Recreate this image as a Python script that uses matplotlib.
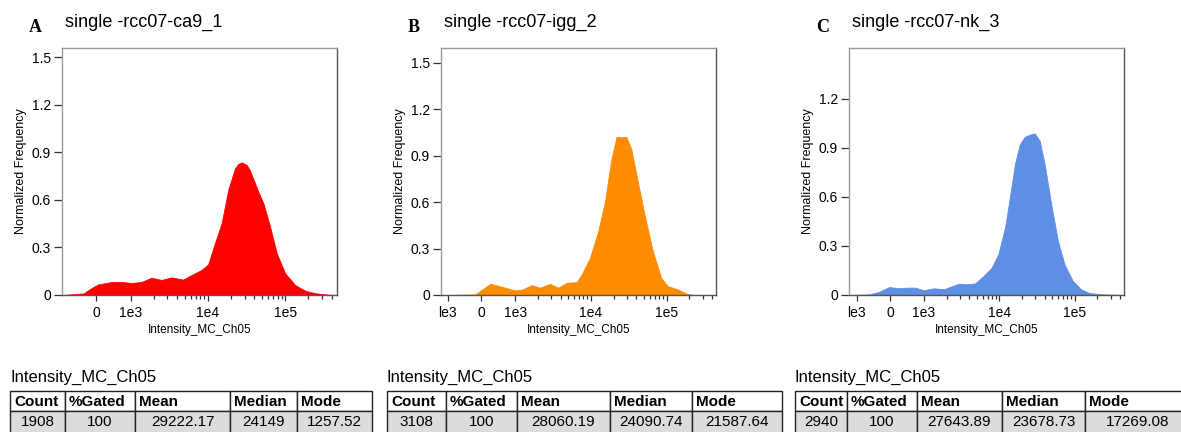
import matplotlib
matplotlib.use("Agg")
import matplotlib.pyplot as plt
from matplotlib.patches import Rectangle

plt.rcParams['font.family'] = ['Liberation Sans', 'DejaVu Sans']

# Dati degli istogrammi (intensita', frequenza normalizzata)
titoli = ["single -rcc07-ca9_1", "single -rcc07-igg_2", "single -rcc07-nk_3"]
lettere = ["A", "B", "C"]
colori = ["#fe0000", "#ff8c00", "#5e8fe4"]

int_a = [-980, -371, -123, 57, 449, 734, 1021, 1377, 1857, 2500, 3380, 4780, 6140, 8280,
         10090, 12330, 15060, 18350, 22400, 24800, 27400, 31800, 35100, 40800, 45000,
         52300, 63900, 78000, 100000, 134900, 182000, 245000, 365000, 469000]
freq_a = [0, 0.01, 0.046, 0.067, 0.082, 0.082, 0.076, 0.082, 0.109, 0.095, 0.111, 0.097,
          0.126, 0.158, 0.193, 0.326, 0.452, 0.662, 0.798, 0.826, 0.836, 0.82, 0.784,
          0.704, 0.651, 0.578, 0.431, 0.263, 0.137, 0.063, 0.027, 0.011, 0.002, 0]

int_b = [-1210, -182, 21, 265, 462, 706, 1000, 1225, 1660, 2130, 2890, 3710, 4790, 6480,
         7550, 9700, 12470, 15300, 18700, 21800, 29500, 34300, 41900, 51400, 66000,
         85000, 104000, 141000, 182000, 234000, 450000]
freq_b = [0, 0.004, 0.036, 0.072, 0.062, 0.047, 0.030, 0.034, 0.064, 0.047, 0.072, 0.047,
          0.079, 0.083, 0.132, 0.238, 0.409, 0.6, 0.877, 1.02, 1.02, 0.94, 0.728, 0.515,
          0.281, 0.11, 0.057, 0.036, 0.009, 0, 0]

int_c = [-1250, -623, -326, -30, 226, 483, 743, 1000, 1354, 1833, 2890, 3710, 4790, 6160,
         7920, 9700, 11900, 13800, 16100, 18700, 21800, 25400, 29500, 34300, 39900, 48800,
         59800, 73100, 94000, 121000, 156000, 234000, 450000]
freq_c = [0, 0.004, 0.02, 0.049, 0.041, 0.045, 0.045, 0.029, 0.041, 0.035, 0.069, 0.065,
          0.071, 0.116, 0.167, 0.249, 0.412, 0.596, 0.8, 0.922, 0.967, 0.98, 0.988, 0.943,
          0.8, 0.555, 0.331, 0.188, 0.086, 0.035, 0.012, 0.004, 0]

intensita = [int_a, int_b, int_c]
frequenze = [freq_a, freq_b, freq_c]

# Limiti degli assi
x_min = [-1000, -1230, -1270]
x_max = [470000, 450000, 450000]
y_max = [1.557, 1.595, 1.51]
y_ticks = [[0, 0.3, 0.6, 0.9, 1.2, 1.5], [0, 0.3, 0.6, 0.9, 1.2, 1.5], [0, 0.3, 0.6, 0.9, 1.2]]
y_tick_labels = [["0", "0.3", "0.6", "0.9", "1.2", "1.5"],
                 ["0", "0.3", "0.6", "0.9", "1.2", "1.5"],
                 ["0", "0.3", "0.6", "0.9", "1.2"]]
x_ticks = [[0, 1e3, 1e4, 1e5], [-1e3, 0, 1e3, 1e4, 1e5], [-1e3, 0, 1e3, 1e4, 1e5]]
x_tick_labels = [["0", "1e3", "1e4", "1e5"], ["le3", "0", "1e3", "1e4", "1e5"],
                 ["le3", "0", "1e3", "1e4", "1e5"]]
minor_ticks = [m * 10 ** e for e in (3, 4) for m in range(2, 10)] + [2e5, 3e5, 4e5]

# Statistiche sotto ogni grafico
intestazioni = ["Count", "%Gated", "Mean", "Median", "Mode"]
stat_a = ["1908", "100", "29222.17", "24149", "1257.52"]
stat_b = ["3108", "100", "28060.19", "24090.74", "21587.64"]
stat_c = ["2940", "100", "27643.89", "23678.73", "17269.08"]
statistiche = [stat_a, stat_b, stat_c]

W, H = 1181, 432
fig = plt.figure(figsize=(W / 100, H / 100), dpi=100)

# posizione in pixel degli assi: sinistra, destra
assi_px = [(62, 337), (441, 716), (849, 1124)]
top_px, bottom_px = 48, 295

for i in range(3):
    l, r = assi_px[i]
    ax = fig.add_axes([l / W, (H - bottom_px) / H, (r - l) / W, (bottom_px - top_px) / H])
    ax.set_xscale('symlog', linthresh=1e3, linscale=0.40)
    ax.fill_between(intensita[i], frequenze[i], 0, color=colori[i], linewidth=0.6,
                    edgecolor=colori[i])
    ax.set_xlim(x_min[i], x_max[i])
    ax.set_ylim(0, y_max[i])

    ax.set_xticks(x_ticks[i])
    ax.set_xticklabels(x_tick_labels[i])
    ax.set_xticks([t for t in minor_ticks if t < x_max[i]], minor=True)
    ax.set_yticks(y_ticks[i])
    ax.set_yticklabels(y_tick_labels[i])

    ax.tick_params(axis='x', which='major', length=4, width=0.9, pad=4, labelsize=10,
                   color='#333333')
    ax.tick_params(axis='x', which='minor', length=3, width=0.9, color='#333333')
    ax.tick_params(axis='y', length=6, width=0.9, pad=2, labelsize=10, color='#333333')

    for lato in ['top', 'left']:
        ax.spines[lato].set_color('#9a9a9a')
    for lato in ['bottom', 'right']:
        ax.spines[lato].set_color('#555555')
    for sp in ax.spines.values():
        sp.set_linewidth(1.0)

    ax.set_xlabel("Intensity_MC_Ch05", fontsize=8.5, labelpad=3)
    ax.set_ylabel("Normalized Frequency", fontsize=9, labelpad=3)

    # lettera del pannello e titolo
    fig.text((l - 33) / W, 1 - 27 / H, lettere[i], family='Liberation Serif',
             fontweight='bold', fontsize=13, ha='left', va='center')
    fig.text((l + 3) / W, 1 - 22 / H, titoli[i], fontsize=13, ha='left', va='center')

# Tabelle con le statistiche
tab = fig.add_axes([0, 0, 1, 1])
tab.set_xlim(0, W)
tab.set_ylim(H, 0)
tab.axis('off')

colonne_px = [[10, 65, 135, 230, 297, 372],
              [387, 446, 517, 610, 692, 782],
              [795, 847, 917, 1002, 1085, 1190]]
riga_top, riga_mid, riga_bot = 391, 411, 440

for i in range(3):
    bordi = colonne_px[i]
    tab.text(bordi[0], 377, "Intensity_MC_Ch05", fontsize=12, ha='left', va='center')
    for j in range(5):
        x0, x1 = bordi[j], bordi[j + 1]
        tab.add_patch(Rectangle((x0, riga_top), x1 - x0, riga_mid - riga_top,
                                facecolor='white', edgecolor='#222222', linewidth=1.0))
        tab.add_patch(Rectangle((x0, riga_mid), x1 - x0, riga_bot - riga_mid,
                                facecolor='#dcdcdc', edgecolor='#222222', linewidth=1.0))
        tab.text(x0 + 4, (riga_top + riga_mid) / 2 + 0.5, intestazioni[j], fontsize=11,
                 fontweight='bold', ha='left', va='center')
        tab.text((x0 + x1) / 2, (riga_mid + 432) / 2, statistiche[i][j], fontsize=11,
                 ha='center', va='center')

fig.savefig("out.png", dpi=100)
